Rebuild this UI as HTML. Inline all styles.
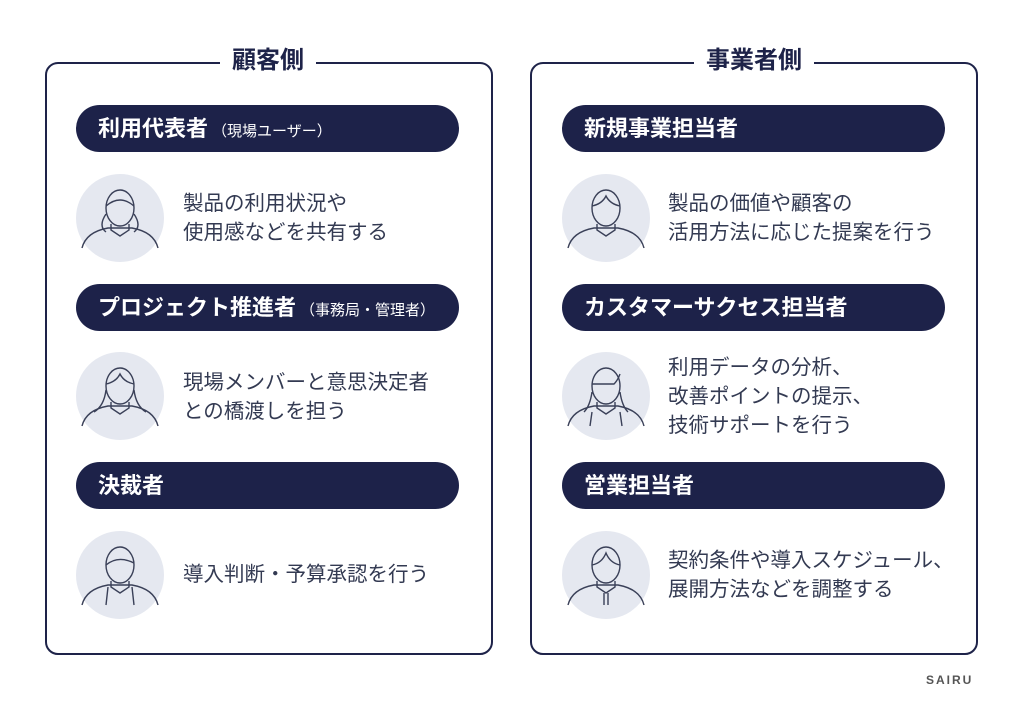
<!DOCTYPE html>
<html><head><meta charset="utf-8"><style>
body{margin:0;width:1024px;height:709px;background:#fff;position:relative;overflow:hidden;font-family:"Liberation Sans","Noto Sans CJK JP",sans-serif;color:#333a52}
.box{position:absolute;top:62px;width:444px;height:589px;border:2px solid #1e2349;border-radius:13px}
.title{position:absolute;top:45px;background:#fff;padding:0 12px;font-size:24px;font-weight:bold;color:#1e2349;line-height:32px;transform:translateX(-50%)}
.pill{position:absolute;height:47px;width:383px;background:#1d2249;border-radius:24px;color:#fff;font-size:22px;font-weight:bold;line-height:47px;box-sizing:border-box;padding-left:22px}
.pill small{font-size:15px;font-weight:normal;margin-left:4px}
.txt{position:absolute;font-size:20.5px;line-height:29px;color:#333a52}
svg.av{position:absolute;width:88px;height:88px}
.logo{position:absolute;left:926px;top:673px;font-size:12px;font-weight:bold;letter-spacing:2px;color:#555}
</style></head><body>
<div class="box" style="left:45px"></div>
<div class="box" style="left:530px"></div>
<div class="title" style="left:268px">顧客側</div>
<div class="title" style="left:754px">事業者側</div>

<div class="pill" style="left:76px;top:105px">利用代表者<small>（現場ユーザー）</small></div>
<div class="pill" style="left:76px;top:284px">プロジェクト推進者<small>（事務局・管理者）</small></div>
<div class="pill" style="left:76px;top:462px">決裁者</div>
<div class="pill" style="left:562px;top:105px">新規事業担当者</div>
<div class="pill" style="left:562px;top:284px">カスタマーサクセス担当者</div>
<div class="pill" style="left:562px;top:462px">営業担当者</div>

<div class="txt" style="left:183px;top:189px">製品の利用状況や<br>使用感などを共有する</div>
<div class="txt" style="left:183px;top:368px">現場メンバーと意思決定者<br>との橋渡しを担う</div>
<div class="txt" style="left:183px;top:560px">導入判断・予算承認を行う</div>
<div class="txt" style="left:668px;top:189px">製品の価値や顧客の<br>活用方法に応じた提案を行う</div>
<div class="txt" style="left:668px;top:353px">利用データの分析、<br>改善ポイントの提示、<br>技術サポートを行う</div>
<div class="txt" style="left:668px;top:546px">契約条件や導入スケジュール、<br>展開方法などを調整する</div>

<svg class="av" style="left:76px;top:174px" viewBox="-44 -44 88 88"><circle r="44" fill="#e5e8f0"/><g fill="none" stroke="#3a4058" stroke-width="1.4"><ellipse cx="0" cy="-10" rx="14" ry="18"/><path d="M-14,-12 Q0,-24 14,-12"/><path d="M-14,-4 Q-22,8 -14,14 M14,-4 Q22,8 14,14"/><path d="M-38,30 Q-34,14 -12,10 L12,10 Q34,14 38,30"/><path d="M-9,6 L-9,12 L0,18 L9,12 L9,6"/></g></svg>
<svg class="av" style="left:76px;top:352px" viewBox="-44 -44 88 88"><circle r="44" fill="#e5e8f0"/><g fill="none" stroke="#3a4058" stroke-width="1.4"><ellipse cx="0" cy="-10" rx="14" ry="18"/><path d="M-14,-12 Q-4,-14 0,-22 Q4,-14 14,-12"/><path d="M-14,-6 Q-16,10 -26,16 M14,-6 Q16,10 26,16"/><path d="M-38,30 Q-34,14 -12,10 L12,10 Q34,14 38,30"/><path d="M-9,6 L-9,12 L0,18 L9,12 L9,6"/></g></svg>
<svg class="av" style="left:76px;top:531px" viewBox="-44 -44 88 88"><circle r="44" fill="#e5e8f0"/><g fill="none" stroke="#3a4058" stroke-width="1.4"><ellipse cx="0" cy="-10" rx="14" ry="18"/><path d="M-14,-10 Q-2,-20 14,-12"/><path d="M-38,30 Q-34,14 -12,10 L12,10 Q34,14 38,30"/><path d="M-9,6 L-9,12 L0,18 L9,12 L9,6 M-12,12 L-14,30 M12,12 L14,30"/></g></svg>
<svg class="av" style="left:562px;top:174px" viewBox="-44 -44 88 88"><circle r="44" fill="#e5e8f0"/><g fill="none" stroke="#3a4058" stroke-width="1.4"><ellipse cx="0" cy="-10" rx="14" ry="18"/><path d="M-14,-12 Q-4,-14 0,-22 Q4,-14 14,-12"/><path d="M-38,30 Q-34,14 -12,10 L12,10 Q34,14 38,30"/><path d="M-9,6 L-9,12 L0,18 L9,12 L9,6"/></g></svg>
<svg class="av" style="left:562px;top:352px" viewBox="-44 -44 88 88"><circle r="44" fill="#e5e8f0"/><g fill="none" stroke="#3a4058" stroke-width="1.4"><ellipse cx="0" cy="-10" rx="14" ry="18"/><path d="M-14,-12 L8,-12 Q12,-16 14,-22"/><path d="M-14,-4 Q-16,10 -22,16 M14,-4 Q16,10 22,16"/><path d="M-38,30 Q-34,14 -12,10 L12,10 Q34,14 38,30"/><path d="M-9,6 L-9,12 L0,18 L9,12 L9,6 M-14,16 L-16,30 M14,16 L16,30"/></g></svg>
<svg class="av" style="left:562px;top:531px" viewBox="-44 -44 88 88"><circle r="44" fill="#e5e8f0"/><g fill="none" stroke="#3a4058" stroke-width="1.4"><ellipse cx="0" cy="-10" rx="14" ry="18"/><path d="M-14,-10 Q-4,-12 0,-22 Q4,-12 14,-10"/><path d="M-38,30 Q-34,14 -12,10 L12,10 Q34,14 38,30"/><path d="M-9,6 L-9,12 L0,18 L9,12 L9,6 M-2,18 L-2,30 M2,18 L2,30"/></g></svg>

<div class="logo">SAIRU</div>
</body></html>
